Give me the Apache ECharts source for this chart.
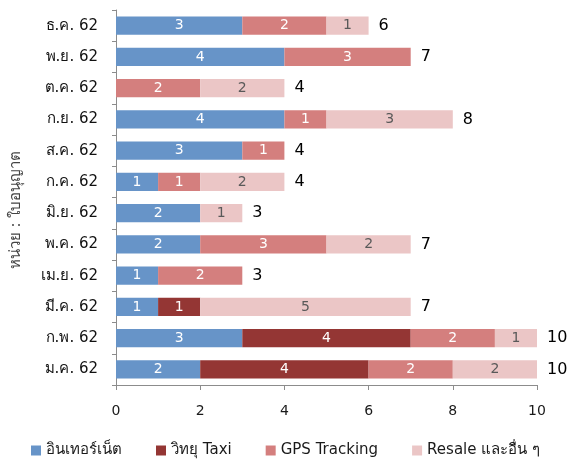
<!DOCTYPE html>
<html><head><meta charset="utf-8">
<script src="https://cdn.jsdelivr.net/npm/echarts@6/dist/echarts.min.js"></script>
<style>html,body{margin:0;padding:0;background:#fff}#c{width:571px;height:460px}</style>
</head><body><div id="c"></div>
<script>
const categories = ['ม.ค. 62','ก.พ. 62','มี.ค. 62','เม.ย. 62','พ.ค. 62','มิ.ย. 62','ก.ค. 62','ส.ค. 62','ก.ย. 62','ต.ค. 62','พ.ย. 62','ธ.ค. 62'];
const internet = [2,3,1,1,2,2,1,3,4,0,4,3];
const taxi     = [4,4,1,0,0,0,0,0,0,0,0,0];
const gps      = [2,2,0,2,3,0,1,1,1,2,3,2];
const resale   = [2,1,5,0,2,1,2,0,3,2,0,1];
const seriesNames = ['อินเทอร์เน็ต','วิทยุ Taxi','GPS Tracking','Resale และอื่น ๆ'];
const xTicks = [0,2,4,6,8,10];
const yAxisTitle = 'หน่วย : ใบอนุญาต';

const totals = categories.map((_, i) => internet[i] + taxi[i] + gps[i] + resale[i]);
const FONT = "'DejaVu Sans', Tahoma, 'Noto Sans', sans-serif";
const colors = ['#6794C8','#943634','#D47F7E','#EBC6C6'];
const labelColors = ['#fff','#fff','#fff','#595959'];

function mk(name, data, idx) {
  return {
    name, type: 'bar', stack: 'a', data, barCategoryGap: '42%',
    itemStyle: { color: colors[idx] },
    label: {
      show: true, position: 'inside', color: labelColors[idx],
      fontFamily: FONT, fontSize: 14,
      formatter: p => p.value ? String(p.value) : ''
    }
  };
}

const chart = echarts.init(document.getElementById('c'));
chart.setOption({
  animation: false,
  textStyle: { fontFamily: FONT },
  grid: { left: 116, right: 34, top: 10, bottom: 75 },
  graphic: [{
    type: 'text', x: 16, y: 210, rotation: Math.PI / 2,
    style: { text: yAxisTitle, fill: '#444', font: "15px 'DejaVu Sans', Tahoma, sans-serif", align: 'center', verticalAlign: 'middle' }
  }],
  xAxis: {
    type: 'value', min: 0, max: 10, interval: 2,
    axisLine: { show: true, lineStyle: { color: '#8c8c8c' } },
    axisTick: { show: true, length: 5, lineStyle: { color: '#8c8c8c' } },
    splitLine: { show: false },
    axisLabel: { color: '#1a1a1a', fontSize: 14, fontFamily: FONT, margin: 19 }
  },
  yAxis: {
    type: 'category', data: categories,
    axisLine: { lineStyle: { color: '#8c8c8c' } },
    axisTick: { show: true, length: 4, lineStyle: { color: '#8c8c8c' } },
    axisLabel: { color: '#111', fontSize: 15, fontFamily: FONT, margin: 18 }
  },
  legend: {
    top: 438, left: 'center', icon: 'rect', itemWidth: 10, itemHeight: 10, itemGap: 34,
    textStyle: { color: '#1a1a1a', fontSize: 15, fontFamily: FONT },
    data: seriesNames
  },
  series: [
    mk(seriesNames[0], internet, 0),
    mk(seriesNames[1], taxi, 1),
    mk(seriesNames[2], gps, 2),
    mk(seriesNames[3], resale, 3),
    {
      name: 'total', type: 'bar', stack: 'a', data: totals.map(() => 0),
      itemStyle: { color: 'transparent' }, silent: true,
      label: {
        show: true, position: 'right', distance: 10, color: '#000',
        fontFamily: FONT, fontSize: 16,
        formatter: p => String(totals[p.dataIndex])
      }
    }
  ]
});
</script></body></html>
